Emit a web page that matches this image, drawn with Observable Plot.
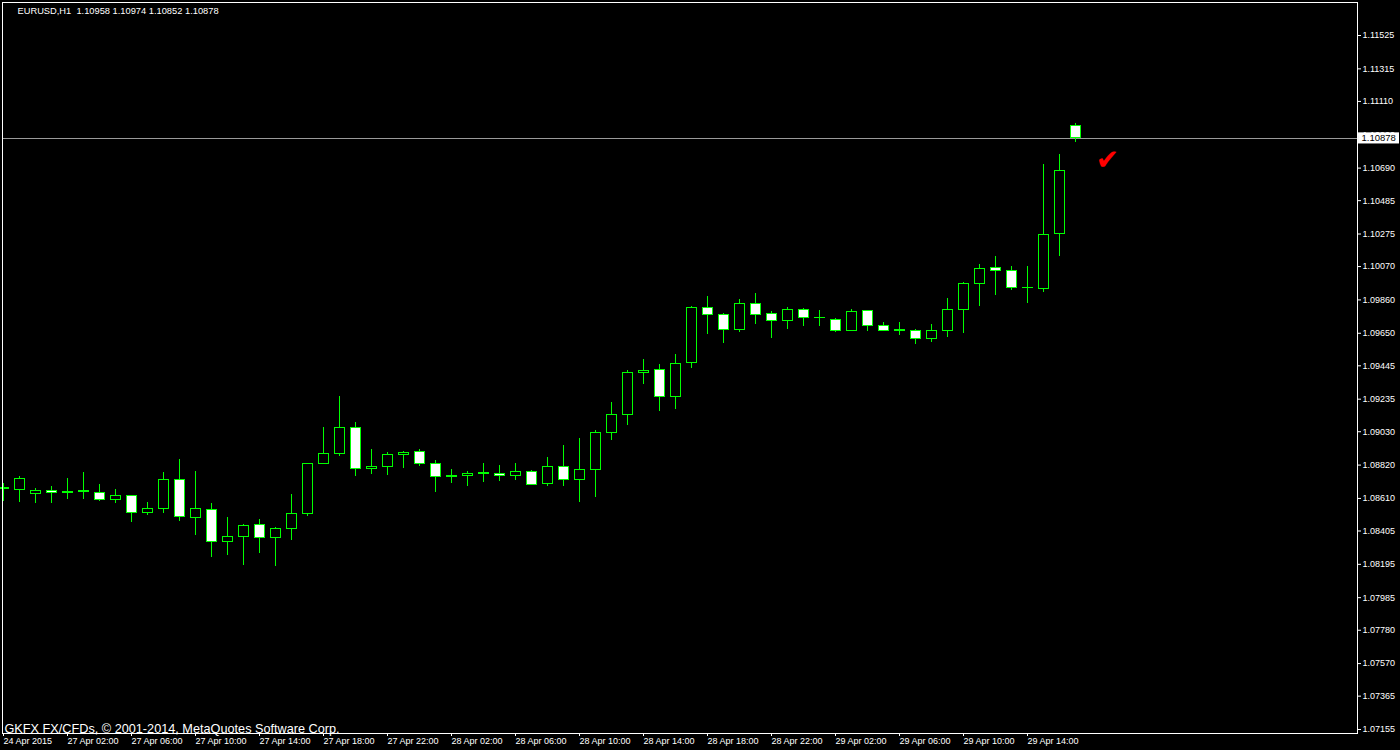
<!DOCTYPE html>
<html><head><meta charset="utf-8">
<script src="https://cdn.jsdelivr.net/npm/d3@7"></script>
<script src="https://cdn.jsdelivr.net/npm/@observablehq/plot@0.6"></script>
<style>html,body{margin:0;padding:0;background:#000;overflow:hidden}</style>
</head><body><div id="chart"></div>
<script>
// EURUSD H1 candles (bar 0 = 24 Apr 2015 22:00 ... bar 67 = 29 Apr 17:00)
const openP  = [1.08668,1.08664,1.08639,1.08658,1.08645,1.08649,1.08645,1.08599,1.08627,1.08520,
                1.08542,1.08727,1.08488,1.08538,1.08337,1.08368,1.08444,1.08362,1.08419,1.08513,
                1.08828,1.08891,1.09055,1.08797,1.08809,1.08885,1.08904,1.08828,1.08746,1.08753,
                1.08765,1.08765,1.08753,1.08778,1.08702,1.08809,1.08727,1.08790,1.09023,1.09137,
                1.09401,1.09420,1.09250,1.09464,1.09810,1.09766,1.09672,1.09836,1.09773,1.09729,
                1.09798,1.09743,1.09735,1.09666,1.09792,1.09697,1.09664,1.09666,1.09615,1.09666,
                1.09798,1.09962,1.10062,1.10043,1.09932,1.09928,1.10276,1.10958];
const highP  = [1.08704,1.08748,1.08674,1.08685,1.08735,1.08773,1.08698,1.08666,1.08628,1.08584,
                1.08773,1.08855,1.08780,1.08578,1.08490,1.08444,1.08477,1.08427,1.08635,1.08830,
                1.09057,1.09252,1.09088,1.08918,1.08899,1.08906,1.08918,1.08849,1.08792,1.08780,
                1.08830,1.08817,1.08830,1.08786,1.08868,1.08943,1.08987,1.09038,1.09214,1.09416,
                1.09485,1.09453,1.09516,1.09819,1.09882,1.09773,1.09863,1.09900,1.09785,1.09812,
                1.09804,1.09792,1.09741,1.09800,1.09794,1.09716,1.09716,1.09672,1.09703,1.09867,
                1.09968,1.10083,1.10133,1.10070,1.10070,1.10713,1.10776,1.10974];
const lowP   = [1.08593,1.08586,1.08580,1.08580,1.08603,1.08603,1.08591,1.08580,1.08460,1.08504,
                1.08517,1.08467,1.08379,1.08240,1.08253,1.08190,1.08265,1.08183,1.08347,1.08498,
                1.08826,1.08874,1.08750,1.08763,1.08756,1.08800,1.08813,1.08649,1.08706,1.08687,
                1.08712,1.08719,1.08725,1.08694,1.08687,1.08687,1.08586,1.08618,1.08977,1.09071,
                1.09329,1.09159,1.09172,1.09430,1.09644,1.09588,1.09657,1.09707,1.09619,1.09676,
                1.09695,1.09695,1.09657,1.09664,1.09663,1.09664,1.09638,1.09581,1.09594,1.09625,
                1.09647,1.09821,1.09890,1.09921,1.09839,1.09909,1.10135,1.10852];
const closeP = [1.08674,1.08734,1.08658,1.08645,1.08651,1.08655,1.08599,1.08627,1.08520,1.08545,
                1.08727,1.08494,1.08545,1.08337,1.08368,1.08438,1.08362,1.08419,1.08513,1.08828,
                1.08891,1.09055,1.08797,1.08809,1.08885,1.08897,1.08828,1.08746,1.08752,1.08765,
                1.08770,1.08753,1.08778,1.08696,1.08809,1.08727,1.08790,1.09023,1.09137,1.09401,
                1.09414,1.09250,1.09458,1.09810,1.09766,1.09672,1.09836,1.09766,1.09729,1.09798,
                1.09747,1.09748,1.09666,1.09785,1.09697,1.09666,1.09669,1.09615,1.09666,1.09798,
                1.09962,1.10056,1.10043,1.09936,1.09937,1.10270,1.10673,1.10878];

const xTickIndex  = [0,4,8,12,16,20,24,28,32,36,40,44,48,52,56,60,64];
const xTickLabels = ["24 Apr 2015","27 Apr 02:00","27 Apr 06:00","27 Apr 10:00","27 Apr 14:00",
                     "27 Apr 18:00","27 Apr 22:00","28 Apr 02:00","28 Apr 06:00","28 Apr 10:00",
                     "28 Apr 14:00","28 Apr 18:00","28 Apr 22:00","29 Apr 02:00","29 Apr 06:00",
                     "29 Apr 10:00","29 Apr 14:00"];
const yTickLabels = ["1.11525","1.11315","1.11110","1.10900","1.10690","1.10485","1.10275","1.10070",
                     "1.09860","1.09650","1.09445","1.09235","1.09030","1.08820","1.08610","1.08405",
                     "1.08195","1.07985","1.07780","1.07570","1.07365","1.07155"];
const symbolName = "EURUSD,H1";
const copyrightText = "GKFX FX/CFDs, \u00A9 2001-2014, MetaQuotes Software Corp.";
const checkMark = [{bar: 69, price: 1.10738}];

const bars = openP.map((o, i) => ({i, o, h: highP[i], l: lowP[i], c: closeP[i]}));
const last = bars[bars.length - 1];
const fmt = v => v.toFixed(5);
const titleText = `${symbolName}  ${fmt(last.o)} ${fmt(last.h)} ${fmt(last.l)} ${fmt(last.c)}`;
const yTicks = yTickLabels.map(Number);
const FONT = "Liberation Sans, Arial, sans-serif";

const chart = Plot.plot({
  width: 1400, height: 750,
  marginLeft: 2, marginRight: 43, marginTop: 2, marginBottom: 17,
  style: {background: "#000", color: "#fff", fontFamily: FONT, fontSize: "9px"},
  x: {type: "linear", domain: [-1/16, 84.625]},
  y: {domain: [1.071298, 1.117328]},
  marks: [
    Plot.ruleY([last.c], {stroke: "#9a9a9a", shapeRendering: "crispEdges"}),
    Plot.ruleX(bars, {x: "i", y1: "l", y2: "h", stroke: "#00ff00", shapeRendering: "crispEdges"}),
    Plot.rect(bars, {
      x1: d => d.i - 0.3125, x2: d => d.i + 0.3125, y1: "o", y2: "c",
      fill: d => d.c < d.o ? "#ffffff" : "#000000", stroke: "#00ff00", shapeRendering: "crispEdges"
    }),
    Plot.frame({stroke: "#ffffff", shapeRendering: "crispEdges"}),
    Plot.axisY(yTicks, {
      anchor: "right", tickSize: 3, tickPadding: 2, label: null,
      tickFormat: fmt, stroke: "#fff", fill: "#fff", fontSize: 9, fontFamily: FONT
    }),
    Plot.axisX(xTickIndex, {
      anchor: "bottom", tickSize: 3, tickPadding: 1, label: null, textAnchor: "start",
      tickFormat: d => xTickLabels[xTickIndex.indexOf(d)],
      stroke: "#fff", fill: "#fff", fontSize: 9, fontFamily: "Liberation Sans Narrow, Liberation Sans, sans-serif"
    }),
    Plot.rect([last.c], {x1: 84.69, x2: 87.25, y1: d => d - 0.00036, y2: d => d + 0.00034, fill: "#ffffff"}),
    Plot.text([last.c], {x: 84.69, y: d => d, text: d => fmt(d), fill: "#000", textAnchor: "start", dx: 3, fontSize: 9.5, fontFamily: FONT}),
    Plot.text(checkMark, {x: "bar", y: "price", text: () => "\u2714", fill: "#ff0000", fontSize: 28, fontFamily: "DejaVu Sans"}),
    Plot.text([titleText], {frameAnchor: "top-left", dx: 15, dy: 9, lineAnchor: "middle", textAnchor: "start", fill: "#fff", fontSize: 9.3, fontFamily: FONT}),
    Plot.text([copyrightText], {frameAnchor: "bottom-left", dx: 2, dy: -1, lineAnchor: "bottom", textAnchor: "start", fill: "#fff", fontSize: 12.7, fontFamily: FONT})
  ]
});
document.getElementById("chart").appendChild(chart);
</script>
</body></html>
